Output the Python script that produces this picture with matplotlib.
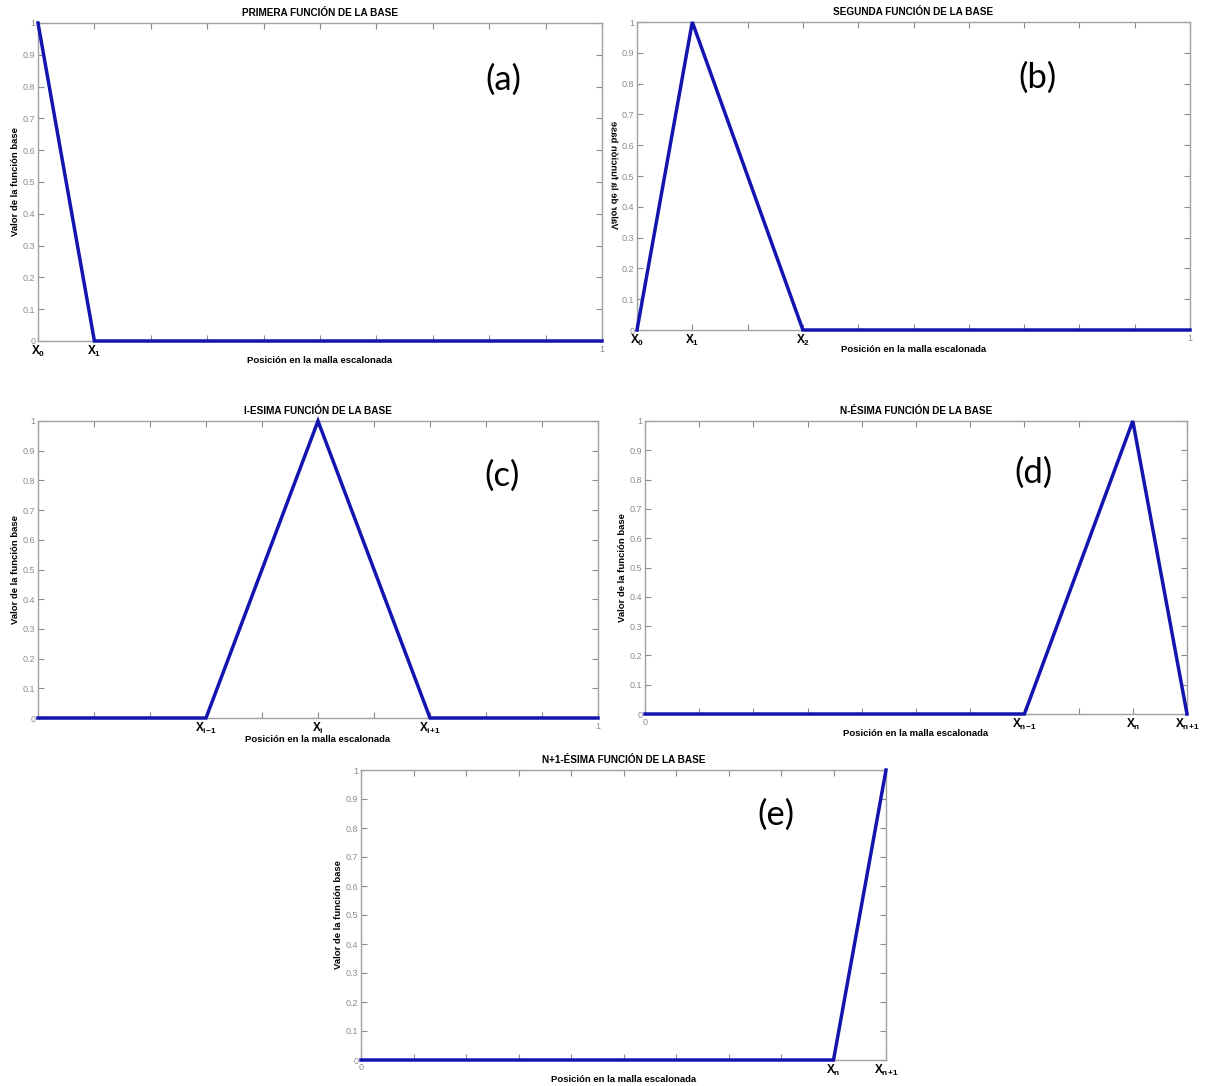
import matplotlib
matplotlib.use("Agg")
import matplotlib.pyplot as plt
import numpy as np
from matplotlib.textpath import TextPath
from matplotlib.patches import PathPatch
from matplotlib.font_manager import FontProperties
from matplotlib.transforms import Affine2D

plt.rcParams["font.family"] = "Liberation Sans"
plt.rcParams["mathtext.fontset"] = "custom"
plt.rcParams["mathtext.rm"] = "Liberation Sans"
plt.rcParams["mathtext.bf"] = "Liberation Sans:bold"
plt.rcParams["mathtext.it"] = "Liberation Sans:italic"

W, H, DPI = 1209, 1086, 100

# nodes of each hat function on the staggered mesh
x_a = [0.0, 0.1, 1.0]
y_a = [1.0, 0.0, 0.0]
x_b = [0.0, 0.1, 0.3, 1.0]
y_b = [0.0, 1.0, 0.0, 0.0]
x_c = [0.0, 0.3, 0.5, 0.7, 1.0]
y_c = [0.0, 0.0, 1.0, 0.0, 0.0]
x_d = [0.0, 0.7, 0.9, 1.0]
y_d = [0.0, 0.0, 1.0, 0.0]
x_e = [0.0, 0.9, 1.0]
y_e = [0.0, 0.0, 1.0]

titles = ["PRIMERA FUNCIÓN DE LA BASE", "SEGUNDA FUNCIÓN DE LA BASE",
          "I-ESIMA FUNCIÓN DE LA BASE", "N-ÉSIMA FUNCIÓN DE LA BASE",
          "N+1-ÉSIMA FUNCIÓN DE LA BASE"]
tags = ["(a)", "(b)", "(c)", "(d)", "(e)"]

# node labels on the x axis
node_pos = [[0.0, 0.1], [0.0, 0.1, 0.3], [0.3, 0.5, 0.7], [0.7, 0.9, 1.0], [0.9, 1.0]]
node_lbl = [[r"$\mathbf{X_0}$", r"$\mathbf{X_1}$"],
            [r"$\mathbf{X_0}$", r"$\mathbf{X_1}$", r"$\mathbf{X_2}$"],
            [r"$\mathbf{X_{i\!-\!1}}$", r"$\mathbf{X_i}$", r"$\mathbf{X_{i\!+\!1}}$"],
            [r"$\mathbf{X_{n\!-\!1}}$", r"$\mathbf{X_n}$", r"$\mathbf{X_{n\!+\!1}}$"],
            [r"$\mathbf{X_n}$", r"$\mathbf{X_{n\!+\!1}}$"]]
# plain numeric label kept at the free end of the axis
end_lbl = [(1.0, "1"), (1.0, "1"), (1.0, "1"), (0.0, "0"), (0.0, "0")]

# axes boxes in pixels: left, top, right, bottom
boxes = [(38, 23, 602, 341), (637, 22, 1190, 330), (38, 421, 598, 718),
         (645, 421, 1187, 714), (361, 770, 886, 1060)]
tag_xy = [(503, 80), (1037, 78), (502, 476), (1034, 473), (776, 815)]

GRAY = "#8c8c8c"
BLUE = "#1414b0"
LABEL = "Valor de la función base"

fig = plt.figure(figsize=(W / DPI, H / DPI), dpi=DPI)

data = [(x_a, y_a), (x_b, y_b), (x_c, y_c), (x_d, y_d), (x_e, y_e)]
for k, ((xs, ys), (l, t, r, b)) in enumerate(zip(data, boxes)):
    ax = fig.add_axes([l / W, 1 - b / H, (r - l) / W, (b - t) / H])
    ax.plot(xs, ys, color=BLUE, lw=2.5, clip_on=False, zorder=5,
            solid_joinstyle="miter")
    ax.set_xlim(0, 1)
    ax.set_ylim(0, 1)
    for s in ax.spines.values():
        s.set_color("#a0a0a0")
        s.set_linewidth(1.0)

    yt = np.round(np.arange(0, 1.01, 0.1), 1)
    ax.set_yticks(yt)
    ax.set_yticklabels(["0" if v == 0 else ("1" if v == 1 else f"{v:g}") for v in yt])
    ax.set_xticks(np.round(np.arange(0, 1.01, 0.1), 1))
    ax.set_xticklabels([])
    ax.tick_params(direction="in", length=4.5, width=0.8, color=GRAY,
                   top=True, right=True, labelsize=6.5, labelcolor=GRAY, pad=2)

    # node names under the x axis
    for p, s in zip(node_pos[k], node_lbl[k]):
        ax.text(p, -0.01, s, transform=ax.transAxes, ha="center", va="top",
                fontsize=8.5, color="black")
    ex, es = end_lbl[k]
    if ex not in node_pos[k]:
        ax.text(ex, -0.012, es, transform=ax.transAxes, ha="center", va="top",
                fontsize=6.5, color=GRAY)

    ax.set_title(titles[k], fontsize=7.2, fontweight="bold", pad=5)
    ax.set_xlabel("Posición en la malla escalonada", fontsize=6.8,
                  fontweight="bold", labelpad=10 if k == 2 else 9)
    if k != 1:
        ax.set_ylabel(LABEL, fontsize=6.8, fontweight="bold", labelpad=2)

    tx, ty = tag_xy[k]
    fig.text(tx / W, 1 - ty / H, tags[k], fontsize=25, family="Lato",
             ha="center", va="center")

# mirrored y label of the second panel
fp = FontProperties(family="Liberation Sans", weight="bold")
tp = TextPath((0, 0), LABEL, size=6.8 * DPI / 72, prop=fp)
ext = tp.get_extents()
cx, cy = (ext.x0 + ext.x1) / 2, (ext.y0 + ext.y1) / 2
tr = (Affine2D().translate(-cx, -cy).rotate_deg(90).scale(-1, 1)
      .translate(615, H - 176))
fig.add_artist(PathPatch(tp, transform=tr, facecolor="black", edgecolor="none"))

fig.savefig("out.png", dpi=DPI)
